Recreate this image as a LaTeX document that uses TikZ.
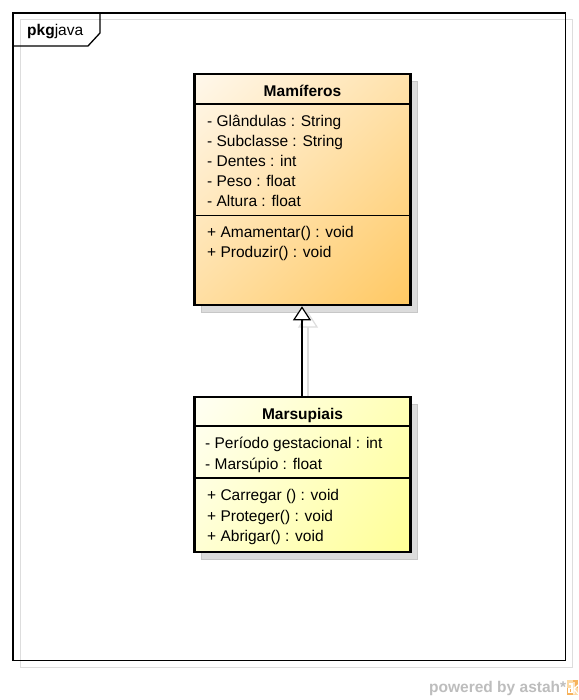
\documentclass[tikz,border=0pt]{standalone}
\usepackage{fontspec}
\setmainfont{Liberation Sans}
\usetikzlibrary{arrows.meta}
\definecolor{mamtop}{HTML}{FFF8EC}
\definecolor{mambot}{HTML}{FFC862}
\definecolor{martop}{HTML}{FFFFF4}
\definecolor{marbot}{HTML}{FFFF96}
\definecolor{shadowgray}{HTML}{DCDCDC}
\definecolor{framegray}{HTML}{DDDDDD}
\definecolor{logogray}{HTML}{BDBDBD}
\definecolor{logoorange}{HTML}{F6B25C}
\definecolor{logolight}{HTML}{FCD9A4}
\begin{document}
\begin{tikzpicture}[x=1pt,y=-1pt,
  txt/.style={anchor=base west, inner sep=0pt, font=\fontsize{15.5}{18}\selectfont},
  ttl/.style={anchor=base, inner sep=0pt, font=\fontsize{15.5}{18}\selectfont\bfseries},
  classbox/.style={draw=black, line width=2.6pt, anchor=north west, inner sep=0pt, outer sep=1.3pt},
  shadowbox/.style={fill=shadowgray, draw=black!22, line width=0.8pt},
  sepline/.style={line width=1.2pt},
  shadowline/.style={framegray, line width=1.2pt}]
\useasboundingbox (0,0) rectangle (578,700);
\fill[white] (0,0) rectangle (578,700);
% package frame
\draw[framegray, line width=1pt] (20,20) rectangle (572,667);
\draw[line width=1.3pt] (13,13) rectangle (565.5,660.5);
\draw[line width=1.3pt] (13,46) -- (88,46) -- (100,33) -- (100,13);
\node[txt] (pkg) at (27,36) {\textbf{pkg}java};
% shadows
\draw[shadowbox] (201.5,81) rectangle (417.5,312);
\draw[shadowbox] (201.5,404) rectangle (417.5,559);
\draw[shadowline] (308,402) -- (308,326);
\draw[shadowline, fill=white] (308,313) -- (317,327) -- (299,327) -- cycle;
% gradient fills (top-left light to bottom-right dark)
\begin{scope}
  \clip (194.5,74) rectangle (410.5,305);
  \begin{scope}[transform canvas={rotate around={-46.9:(302.5,189.5)}}]
    \shade[left color=mamtop, right color=mambot] (144.4,-20) rectangle (460.6,400);
  \end{scope}
\end{scope}
\begin{scope}
  \clip (194.5,397) rectangle (410.5,552);
  \begin{scope}[transform canvas={rotate around={-35.7:(302.5,474.5)}}]
    \shade[left color=martop, right color=marbot] (169.5,300) rectangle (435.5,650);
  \end{scope}
\end{scope}
% Mamiferos
\node[classbox, minimum width=216pt, minimum height=231pt] (mam) at (193.2,72.7) {};
\draw[sepline] (mam.west |- 0,104) -- (mam.east |- 0,104);
\draw[sepline] (mam.west |- 0,215.5) -- (mam.east |- 0,215.5);
\node[ttl] (mamt) at (302.5,97) {Mamíferos};
\node[txt] (a1) at (207,127) {- Glândulas : String};
\node[txt] (a2) at (207,147) {- Subclasse : String};
\node[txt] (a3) at (207,167) {- Dentes : int};
\node[txt] (a4) at (207,187) {- Peso : float};
\node[txt] (a5) at (207,207) {- Altura : float};
\node[txt] (m1) at (207,238) {+ Amamentar() : void};
\node[txt] (m2) at (207,258) {+ Produzir() : void};
% Marsupiais
\node[classbox, minimum width=216pt, minimum height=155pt] (mar) at (193.2,395.7) {};
\draw[sepline] (mar.west |- 0,426) -- (mar.east |- 0,426);
\draw[sepline] (mar.west |- 0,478) -- (mar.east |- 0,478);
\node[ttl] (mart) at (302.5,419.5) {Marsupiais};
\node[txt] (b1) at (205,448.5) {- Período gestacional : int};
\node[txt] (b2) at (205,469.5) {- Marsúpio : float};
\node[txt] (n1) at (207,500) {+ Carregar () : void};
\node[txt] (n2) at (207,521) {+ Proteger() : void};
\node[txt] (n3) at (207,541.5) {+ Abrigar() : void};
% generalization
\draw[line width=1.2pt, -{Triangle[open, fill=white, width=18pt, length=14pt, line width=1.2pt]}] (mar.north -| 302,0) -- (mam.south -| 302,0);
% footer
\node[anchor=base west, inner sep=0pt, text=logogray, font=\fontsize{15.5}{18}\selectfont\bfseries] (pw) at (429,692) {powered by astah*};
\fill[logoorange] (567,680) rectangle (578,695);
\fill[logolight] (567,680) rectangle (572.5,687.5);
\fill[logolight] (572.5,687.5) rectangle (578,695);
\draw[white, line width=1.1pt] (568.5,684) -- (572,684) -- (572,693) (572,688.5) -- (569,688.5) -- (569,692.5) -- (572,692.5);
\draw[white, line width=1.1pt] (574,682) -- (574,694) (578,685) -- (574,689) -- (578,694);
\end{tikzpicture}
\end{document}
